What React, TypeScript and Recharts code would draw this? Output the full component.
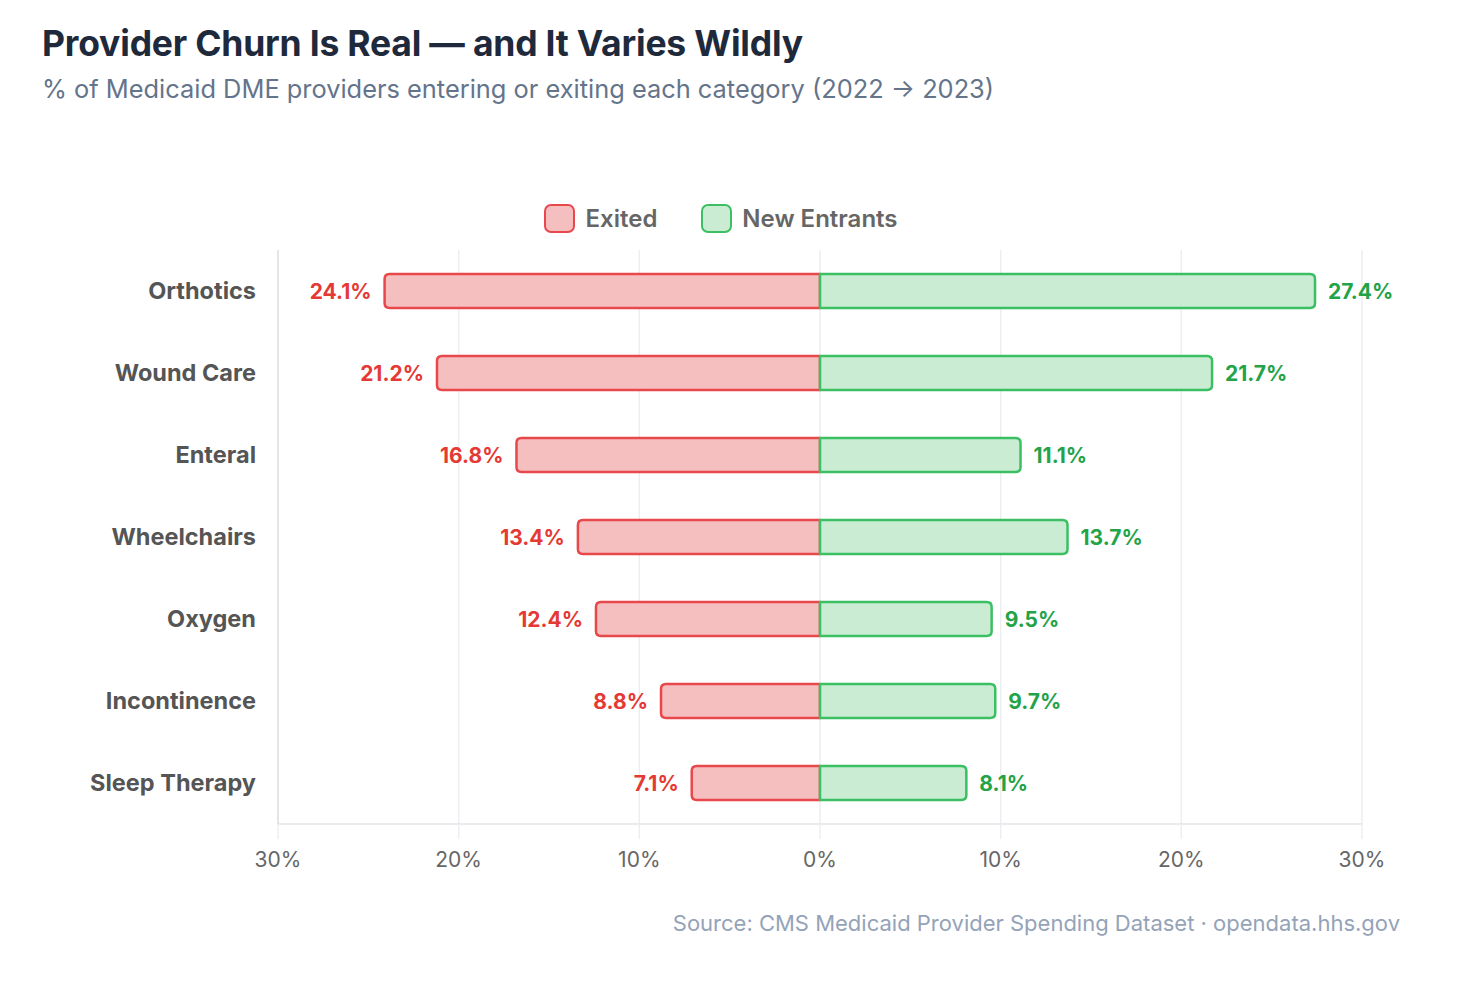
import React from "react";
import { BarChart, Bar, XAxis, YAxis, CartesianGrid, LabelList } from "recharts";

const categories = ["Orthotics", "Wound Care", "Enteral", "Wheelchairs", "Oxygen", "Incontinence", "Sleep Therapy"];
const exited = [24.1, 21.2, 16.8, 13.4, 12.4, 8.8, 7.1];
const newEntrants = [27.4, 21.7, 11.1, 13.7, 9.5, 9.7, 8.1];
const xTicks = [-30, -20, -10, 0, 10, 20, 30];

const RED = "#e8484b";
const RED_FILL = "#f6bfbf";
const GREEN = "#3cbf63";
const GREEN_FILL = "#c9ecd3";

const data = categories.map((name, i) => ({
  name,
  exited: -exited[i],
  entrants: newEntrants[i],
}));

const FONT = "Inter, 'Noto Sans', sans-serif";

// rounded only on the outer end, flat where the bar meets zero
function SideBar(props: any) {
  const { x, y, width, height, fill, stroke, side } = props;
  const x0 = Math.min(x, x + width);
  const w = Math.abs(width);
  const r = Math.min(5, w / 2);
  const x1 = x0 + w;
  const y1 = y + height;
  const d =
    side === "left"
      ? `M${x1},${y} L${x0 + r},${y} Q${x0},${y} ${x0},${y + r} L${x0},${y1 - r} Q${x0},${y1} ${x0 + r},${y1} L${x1},${y1} Z`
      : `M${x0},${y} L${x1 - r},${y} Q${x1},${y} ${x1},${y + r} L${x1},${y1 - r} Q${x1},${y1} ${x1 - r},${y1} L${x0},${y1} Z`;
  return <path d={d} fill={fill} stroke={stroke} strokeWidth={2.5} strokeLinejoin="round" />;
}

function makeLabel(side: "left" | "right", color: string) {
  return (props: any) => {
    const { x, y, width, height, value } = props;
    const x0 = Math.min(x, x + width);
    const x1 = Math.max(x, x + width);
    const tx = side === "left" ? x0 - 13 : x1 + 13;
    return (
      <text
        x={tx}
        y={y + height / 2}
        dy="0.36em"
        textAnchor={side === "left" ? "end" : "start"}
        fill={color}
        fontSize={21}
        fontWeight={700}
        fontFamily={FONT}
      >
        {Math.abs(value).toFixed(1)}%
      </text>
    );
  };
}

function LegendItem({ fill, stroke, label }: { fill: string; stroke: string; label: string }) {
  return (
    <div style={{ display: "flex", alignItems: "center", gap: 10 }}>
      <div
        style={{
          boxSizing: "border-box",
          width: 31,
          height: 29,
          borderRadius: 7,
          background: fill,
          border: `2.5px solid ${stroke}`,
        }}
      />
      <span style={{ fontSize: 24, fontWeight: 600, color: "#666", lineHeight: "29px" }}>{label}</span>
    </div>
  );
}

export default function App() {
  return (
    <div
      style={{
        position: "absolute",
        left: 0,
        top: 0,
        width: 1465,
        height: 989,
        background: "#fff",
        fontFamily: FONT,
      }}
    >
      <div style={{ position: "absolute", left: 42, top: 23, fontSize: 35.5, fontWeight: 700, color: "#1e293b", letterSpacing: -0.2, lineHeight: "42px" }}>
        Provider Churn Is Real — and It Varies Wildly
      </div>
      <div style={{ position: "absolute", left: 42, top: 74, fontSize: 25.4, color: "#64748b", lineHeight: "30px" }}>
        % of Medicaid DME providers entering or exiting each category (2022 → 2023)
      </div>

      <div
        style={{
          position: "absolute",
          top: 204,
          left: 42,
          width: 1358,
          display: "flex",
          justifyContent: "center",
          gap: 44,
        }}
      >
        <LegendItem fill={RED_FILL} stroke={RED} label="Exited" />
        <LegendItem fill={GREEN_FILL} stroke={GREEN} label="New Entrants" />
      </div>

      <div style={{ position: "absolute", left: 0, top: 0 }}>
        <BarChart
          width={1465}
          height={989}
          data={data}
          layout="vertical"
          stackOffset="sign"
          barSize={34}
          margin={{ top: 250, right: 103, bottom: 125, left: 42 }}
        >
          <CartesianGrid horizontal={false} stroke="#eceef1" strokeWidth={1.5} />
          <XAxis
            type="number"
            domain={[-30, 30]}
            ticks={xTicks}
            tickFormatter={(v: number) => `${Math.abs(v)}%`}
            axisLine={{ stroke: "#e3e5e8", strokeWidth: 1.5 }}
            tickLine={{ stroke: "#eceef1", strokeWidth: 1.5 }}
            tickSize={15}
            tickMargin={13}
            height={40}
            tick={{ fill: "#666", fontSize: 21, fontFamily: FONT }}
          />
          <YAxis
            type="category"
            dataKey="name"
            width={236}
            axisLine={{ stroke: "#dfe1e5", strokeWidth: 1.5 }}
            tickLine={false}
            tickSize={0}
            tickMargin={22}
            tick={{ fill: "#555", fontSize: 23.5, fontWeight: 700, fontFamily: FONT }}
          />
          <Bar
            dataKey="exited"
            stackId="a"
            fill={RED_FILL}
            stroke={RED}
            isAnimationActive={false}
            shape={(p: any) => <SideBar {...p} side="left" fill={RED_FILL} stroke={RED} />}
          >
            <LabelList dataKey="exited" content={makeLabel("left", "#e53935")} />
          </Bar>
          <Bar
            dataKey="entrants"
            stackId="a"
            fill={GREEN_FILL}
            stroke={GREEN}
            isAnimationActive={false}
            shape={(p: any) => <SideBar {...p} side="right" fill={GREEN_FILL} stroke={GREEN} />}
          >
            <LabelList dataKey="entrants" content={makeLabel("right", "#23a348")} />
          </Bar>
        </BarChart>
      </div>

      <div style={{ position: "absolute", right: 65, top: 910, fontSize: 22, color: "#94a3b8", lineHeight: "27px" }}>
        Source: CMS Medicaid Provider Spending Dataset · opendata.hhs.gov
      </div>
    </div>
  );
}
